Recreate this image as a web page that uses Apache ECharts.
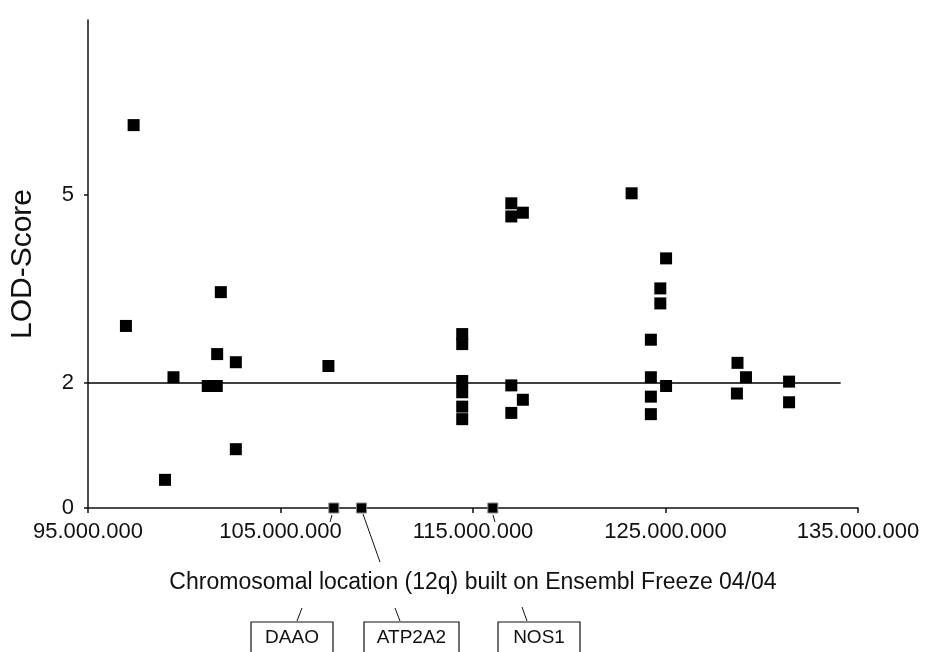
<!DOCTYPE html>
<html>
<head>
<meta charset="utf-8">
<script src="https://cdn.jsdelivr.net/npm/echarts@6/dist/echarts.min.js"></script>
<style>
  html, body { margin: 0; padding: 0; background: #fff; }
  #main { width: 925px; height: 652px; }
</style>
</head>
<body>
<div id="main"></div>
<script>
// marker positions in Mb
var locMb = [97.37, 96.97, 101.90, 99.44, 101.71, 102.68, 107.49, 101.22, 101.69, 102.68, 99.00,
  114.44, 114.44, 114.44, 114.44, 114.44, 114.44,
  116.99, 116.99, 117.59, 116.99, 117.59, 116.99,
  123.24, 125.03, 124.73, 124.73, 124.24, 124.24, 125.03, 124.24, 124.24,
  128.74, 129.18, 128.71, 131.42, 131.42];
var lodScore = [6.12, 2.91, 3.45, 2.09, 2.46, 2.33, 2.27, 1.95, 1.95, 0.94, 0.45,
  2.78, 2.62, 2.03, 1.85, 1.62, 1.42,
  4.87, 4.66, 4.72, 1.96, 1.73, 1.52,
  5.03, 3.99, 3.51, 3.27, 2.69, 2.09, 1.95, 1.78, 1.50,
  2.32, 2.09, 1.83, 2.02, 1.69];

var geneNames = ["DAAO", "ATP2A2", "NOS1"];
var geneMb = [107.77, 109.21, 116.03];

var xTicks = [95e6, 105e6, 115e6, 125e6, 135e6];
var yTicks = [0, 2, 5];
var threshold = 2;

var FONT = "Liberation Sans, Arial, sans-serif";

function dots(v) {
  return String(Math.round(v)).replace(/\B(?=(\d{3})+(?!\d))/g, ".");
}

var chart = echarts.init(document.getElementById("main"));

var points = [];
for (var i = 0; i < locMb.length; i++) {
  points.push([locMb[i] * 1e6, lodScore[i]]);
}
var genePoints = geneMb.map(function (m) { return [m * 1e6, 0]; });

chart.setOption({
  animation: false,
  grid: { left: 88, right: 67, top: 20, bottom: 144 },
  xAxis: {
    type: "value",
    min: 95e6,
    max: 135e6,
    name: "Chromosomal location (12q) built on Ensembl Freeze 04/04",
    nameLocation: "middle",
    nameGap: 63,
    nameTextStyle: { color: "#111", fontSize: 23, fontFamily: FONT },
    axisLine: { lineStyle: { color: "#111", width: 1.5 } },
    axisTick: { show: true, customValues: xTicks, length: 5, lineStyle: { color: "#111", width: 1.5 } },
    axisLabel: {
      customValues: xTicks,
      formatter: dots,
      color: "#111",
      fontSize: 22,
      fontFamily: FONT,
      margin: 13
    },
    splitLine: { show: false }
  },
  yAxis: {
    type: "value",
    min: 0,
    max: 7.8,
    name: "LOD-Score",
    nameLocation: "middle",
    nameGap: 50,
    nameRotate: 90,
    nameTextStyle: { color: "#111", fontSize: 30, fontFamily: FONT },
    axisLine: { show: true, lineStyle: { color: "#111", width: 1.5 } },
    axisTick: { show: true, customValues: yTicks, length: 4, lineStyle: { color: "#111", width: 1.5 } },
    axisLabel: {
      customValues: yTicks,
      color: "#111",
      fontSize: 22,
      fontFamily: FONT,
      margin: 14
    },
    splitLine: { show: false }
  },
  series: [
    {
      type: "scatter",
      symbol: "rect",
      symbolSize: 12,
      itemStyle: { color: "#000", opacity: 1 },
      data: points,
      markLine: {
        silent: true,
        symbol: "none",
        label: { show: false },
        lineStyle: { color: "#000", width: 1.5, type: "solid" },
        data: [[{ coord: [95e6, threshold] }, { coord: [134.1e6, threshold] }]]
      },
      z: 3
    },
    {
      type: "scatter",
      symbol: "rect",
      symbolSize: 10,
      itemStyle: { color: "#000", borderColor: "#888", borderWidth: 1, opacity: 1 },
      data: genePoints,
      z: 4
    }
  ]
});

// gene boxes under the axis title, with their leader lines
var boxes = [
  { x: 251, w: 82, lead: [[302, 608], [297, 621]], tick: [[332, 515], [330, 522]] },
  { x: 364, w: 95, lead: [[395, 608], [400, 621]], tick: [[363, 514], [380, 562]] },
  { x: 498, w: 82, lead: [[522, 607], [527, 621]], tick: [[493, 515], [495, 522]] }
];
var gfx = [];
boxes.forEach(function (b, k) {
  gfx.push({
    type: "rect",
    shape: { x: b.x, y: 622, width: b.w, height: 34 },
    style: { fill: "#fff", stroke: "#111", lineWidth: 1.2 }
  });
  gfx.push({
    type: "text",
    x: b.x + b.w / 2,
    y: 638,
    style: {
      text: geneNames[k], fill: "#111", fontSize: 19, fontFamily: FONT,
      align: "center", verticalAlign: "middle"
    }
  });
  gfx.push({
    type: "line",
    shape: { x1: b.lead[0][0], y1: b.lead[0][1], x2: b.lead[1][0], y2: b.lead[1][1] },
    style: { stroke: "#111", lineWidth: 1 }
  });
  gfx.push({
    type: "line",
    shape: { x1: b.tick[0][0], y1: b.tick[0][1], x2: b.tick[1][0], y2: b.tick[1][1] },
    style: { stroke: "#111", lineWidth: 1 }
  });
});
chart.setOption({ graphic: gfx });
</script>
</body>
</html>
